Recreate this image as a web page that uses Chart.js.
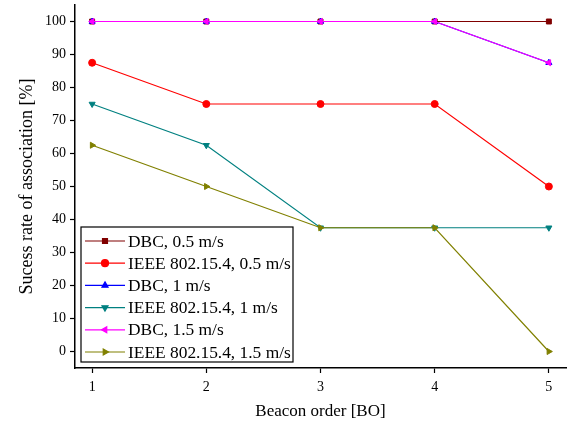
<!DOCTYPE html>
<html lang="en">
<head>
    <meta charset="UTF-8">
    <title>Success rate of association</title>
    <script src="https://cdn.jsdelivr.net/npm/chart.js"></script>
    <style>
        body { margin: 0; background: white; }
        .container { width: 576px; height: 426px; position: relative; }
    </style>
</head>
<body>
    <div class="container">
        <canvas id="lineChart"></canvas>
    </div>

    <script>
        // Data
        const beaconOrder = [1, 2, 3, 4, 5];
        const dbc05 = [100, 100, 100, 100, 100];
        const ieee05 = [87.5, 75, 75, 75, 50];
        const dbc1 = [100, 100, 100, 100, 87.5];
        const ieee1 = [75, 62.5, 37.5, 37.5, 37.5];
        const dbc15 = [100, 100, 100, 100, 87.5];
        const ieee15 = [62.5, 50, 37.5, 37.5, 0];

        const labels = ['DBC, 0.5 m/s', 'IEEE 802.15.4, 0.5 m/s', 'DBC, 1 m/s',
                        'IEEE 802.15.4, 1 m/s', 'DBC, 1.5 m/s', 'IEEE 802.15.4, 1.5 m/s'];
        const values = [dbc05, ieee05, dbc1, ieee1, dbc15, ieee15];
        const colors = ['#800000', '#ff0000', '#0000ff', '#008080', '#ff00ff', '#808000'];
        const shapes = ['rect', 'circle', 'triangle', 'triangle', 'triangle', 'triangle'];
        const rotations = [0, 0, 0, 180, -90, 90];

        const serif = '"Liberation Serif", "Times New Roman", serif';

        const datasets = values.map((vals, i) => ({
            label: labels[i],
            data: vals.map((v, j) => ({ x: beaconOrder[j], y: v })),
            borderColor: colors[i],
            backgroundColor: colors[i],
            borderWidth: 1.2,
            pointStyle: shapes[i],
            pointRotation: rotations[i],
            pointRadius: 3.5,
            pointBorderWidth: 1,
            order: 6 - i
        }));

        // legend box drawn inside the plot, lower left
        const boxLegend = {
            id: 'boxLegend',
            afterDraw(chart) {
                const ctx = chart.ctx;
                const x0 = 81, y0 = 227, w = 212, h = 135;
                ctx.save();
                ctx.fillStyle = 'white';
                ctx.fillRect(x0, y0, w, h);
                ctx.strokeStyle = '#000';
                ctx.lineWidth = 1.2;
                ctx.strokeRect(x0, y0, w, h);
                ctx.font = '17.4px ' + serif;
                ctx.textBaseline = 'middle';
                labels.forEach((lab, i) => {
                    const y = y0 + 14 + i * 22.2;
                    ctx.strokeStyle = colors[i];
                    ctx.lineWidth = 1.2;
                    ctx.beginPath();
                    ctx.moveTo(x0 + 4, y);
                    ctx.lineTo(x0 + 44, y);
                    ctx.stroke();
                    ctx.fillStyle = colors[i];
                    Chart.helpers.drawPoint(ctx, {
                        pointStyle: shapes[i], rotation: rotations[i], radius: 3.5, borderWidth: 1
                    }, x0 + 24, y);
                    ctx.fillStyle = '#000';
                    ctx.fillText(lab, x0 + 47, y + 1);
                });
                ctx.restore();
            }
        };

        new Chart(document.getElementById('lineChart').getContext('2d'), {
            type: 'line',
            data: { datasets: datasets },
            plugins: [boxLegend],
            options: {
                responsive: true,
                maintainAspectRatio: false,
                animation: false,
                layout: { padding: { left: 0, right: 10, top: 5, bottom: 0 } },
                plugins: {
                    legend: { display: false },
                    tooltip: { enabled: false }
                },
                scales: {
                    x: {
                        type: 'linear',
                        min: 0.85,
                        max: 5.15,
                        afterBuildTicks: s => { s.ticks = beaconOrder.map(v => ({ value: v })); },
                        afterFit: s => { s.height = 58; },
                        grid: { drawOnChartArea: false, tickLength: 5, tickColor: '#000', tickWidth: 1.2 },
                        border: { color: '#000', width: 1.5 },
                        ticks: { color: '#000', font: { family: serif, size: 14 }, padding: 6 },
                        title: { display: true, text: 'Beacon order [BO]', color: '#000',
                                 font: { family: serif, size: 17 }, padding: { top: 8 } }
                    },
                    y: {
                        min: -5,
                        max: 105,
                        afterBuildTicks: s => {
                            const t = [];
                            for (let v = 0; v <= 100; v += 10) t.push({ value: v });
                            s.ticks = t;
                        },
                        afterFit: s => { s.width = 75; s.paddingTop = 0; s.paddingBottom = 0; },
                        grid: { drawOnChartArea: false, tickLength: 5, tickColor: '#000', tickWidth: 1.2 },
                        border: { color: '#000', width: 1.5 },
                        ticks: { color: '#000', font: { family: serif, size: 14 }, padding: 4 },
                        title: { display: true, text: 'Sucess rate of association [%]', color: '#000',
                                 font: { family: serif, size: 18 }, padding: { top: 16, bottom: 0 } }
                    }
                }
            }
        });
    </script>
</body>
</html>
